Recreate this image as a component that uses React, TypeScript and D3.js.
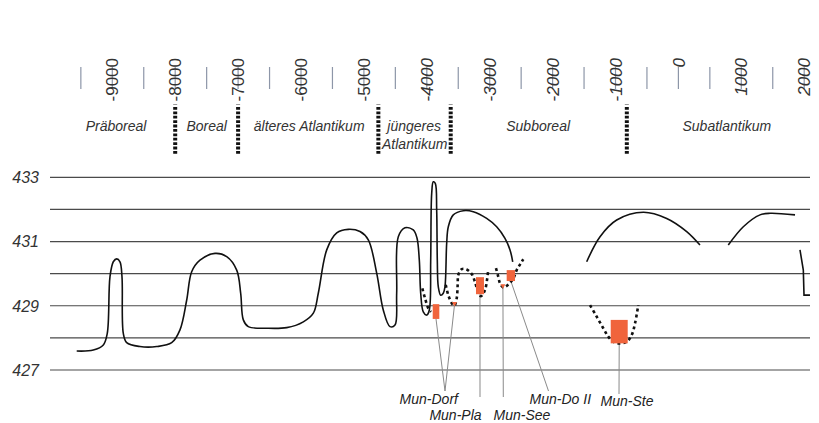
import React from 'react';
import * as d3 from 'd3';

// ---------- data ----------
const tickYears = d3.range(-9500, 2001, 500);
const labelYears = [-9000, -8000, -7000, -6000, -5000, -4000, -3000, -2000, -1000, 0, 1000, 2000];
const levelLabels = [433, 431, 429, 427];
const gridLevels = [433, 432, 431, 430, 429, 428, 427];

const periodBoundaries = [-8000, -7000, -4770, -3620, -820];
const periodNames = ['Präboreal', 'Boreal', 'älteres Atlantikum', 'jüngeres|Atlantikum', 'Subboreal', 'Subatlantikum'];
const periodLabelYears = [-8940, -7500, -5870, -4200, -2230, 770];

const mainCurve: [number, number][] = [
  [-9566, 427.59], [-9302, 427.62], [-9143, 427.78], [-9080, 428.14], [-9037, 429.9],
  [-8984, 430.37], [-8930, 430.46], [-8878, 430.37], [-8846, 429.9], [-8825, 428.14],
  [-8771, 427.85], [-8560, 427.73], [-8294, 427.73], [-8056, 427.85], [-7924, 428.25],
  [-7817, 429.18], [-7738, 430.06], [-7606, 430.42], [-7367, 430.63], [-7181, 430.53],
  [-7022, 430.11], [-6959, 429.39], [-6917, 428.56], [-6838, 428.35], [-6545, 428.3],
  [-6227, 428.32], [-5963, 428.5], [-5804, 428.77], [-5725, 429.39], [-5591, 430.74],
  [-5432, 431.27], [-5248, 431.38], [-5062, 431.31], [-4930, 431.05], [-4796, 430.01],
  [-4692, 428.87], [-4585, 428.35], [-4506, 428.4], [-4479, 429.39], [-4453, 431.15],
  [-4347, 431.43], [-4215, 431.36], [-4156, 431.11], [-4119, 430.42], [-4097, 429.39],
  [-4056, 428.81], [-4002, 428.71], [-3960, 428.87], [-3938, 430.42], [-3922, 432.5],
  [-3897, 432.86], [-3865, 432.81], [-3843, 431.98], [-3833, 430.42], [-3817, 429.59],
  [-3779, 429.33], [-3738, 429.39], [-3711, 429.59], [-3684, 430.94], [-3658, 431.46],
  [-3579, 431.83], [-3420, 431.96], [-3261, 431.93], [-3048, 431.72], [-2889, 431.46],
  [-2757, 431.1], [-2677, 430.74], [-2634, 430.37],
];
const subatlArc1: [number, number][] = [
  [-1458, 430.37], [-1246, 431.15], [-981, 431.67], [-558, 431.91], [-186, 431.72], [132, 431.31], [343, 430.89],
];
const subatlArc2: [number, number][] = [
  [793, 430.89], [1032, 431.46], [1297, 431.83], [1456, 431.88], [1854, 431.83],
];
const endHook: [number, number][] = [
  [1933, 430.74], [1986, 430.11], [1997, 429.33], [2092, 429.33],
];

const dashedDorf: [number, number][] = [
  [-4071, 429.54], [-4028, 429.23], [-3976, 428.92], [-3933, 428.81],
];
const dashedPla: [number, number][] = [
  [-3699, 429.65], [-3658, 429.33], [-3604, 429.08], [-3563, 429.0], [-3525, 429.23],
  [-3509, 429.65], [-3499, 429.96], [-3445, 430.14], [-3366, 430.13], [-3286, 429.99],
  [-3234, 429.74], [-3180, 429.4], [-3138, 429.3], [-3075, 429.49], [-3043, 429.8], [-3027, 430.05],
];
const dashedSee: [number, number][] = [
  [-2900, 430.17], [-2863, 429.9], [-2836, 429.7], [-2784, 429.57], [-2704, 429.66],
  [-2625, 429.85], [-2571, 430.11], [-2507, 430.32], [-2466, 430.45],
];
const dashedSte: [number, number][] = [
  [-1405, 429.02], [-1299, 428.66], [-1194, 428.3], [-1115, 428.04], [-1035, 427.88],
  [-956, 427.83], [-822, 427.88], [-742, 428.09], [-690, 428.45], [-638, 429.02],
];

const rectSites = ['Mun-Dorf', 'Mun-Pla', 'Mun-Do II', 'Mun-Ste'];
const rectYearFrom = [-3906, -3218, -2730, -1076];
const rectYearTo = [-3801, -3091, -2598, -806];
const rectLow = [428.59, 429.36, 429.77, 427.83];
const rectHigh = [429.05, 429.89, 430.11, 428.56];

const pointSites = ['Mun-Dorf', 'Mun-See'];
const pointYears = [-3560, -2790];
const pointLevels = [429.02, 429.58];

const siteNames = ['Mun-Dorf', 'Mun-Pla', 'Mun-See', 'Mun-Do II', 'Mun-Ste'];

// ---------- layout ----------
const W = 819;
const H = 423;
const labelLayout: Record<string, { tx: number; ty: number; ax: number; ay: number }> = {
  'Mun-Dorf': { tx: 428.8, ty: 404, ax: 445, ay: 391 },
  'Mun-Pla': { tx: 455.5, ty: 419.5, ax: 480, ay: 397 },
  'Mun-See': { tx: 522, ty: 419.5, ax: 503.3, ay: 397 },
  'Mun-Do II': { tx: 560.3, ty: 404, ax: 548.5, ay: 391 },
  'Mun-Ste': { tx: 627, ty: 406, ax: 619, ay: 394 },
};

const FONT = '"Liberation Sans", Arial, Helvetica, sans-serif';

export default function App() {
  const x = d3.scaleLinear().domain([-9000, 2000]).range([112.3, 804.2]);
  const y = d3.scaleLinear().domain([427, 433]).range([370, 177.3]);

  const smooth = d3
    .line<[number, number]>()
    .x((d) => x(d[0]))
    .y((d) => y(d[1]))
    .curve(d3.curveCatmullRom.alpha(0.5));
  const straight = d3
    .line<[number, number]>()
    .x((d) => x(d[0]))
    .y((d) => y(d[1]));

  const connectorStarts: { site: string; x: number; y: number }[] = [];
  rectSites.forEach((s, i) => {
    connectorStarts.push({ site: s, x: (x(rectYearFrom[i]) + x(rectYearTo[i])) / 2, y: y(rectLow[i]) });
  });
  pointSites.forEach((s, i) => {
    connectorStarts.push({ site: s, x: x(pointYears[i]), y: y(pointLevels[i]) });
  });

  return (
    <svg
      width={W}
      height={H}
      style={{ position: 'absolute', left: 0, top: 0, background: '#fff' }}
      fontFamily={FONT}
    >
      {/* top time axis */}
      {tickYears.map((t) => (
        <line key={'t' + t} x1={x(t)} x2={x(t)} y1={67} y2={89} stroke="#8d96a8" strokeWidth={1.2} />
      ))}
      {labelYears.map((t) => (
        <text
          key={'l' + t}
          transform={`translate(${x(t)},58) rotate(-90)`}
          textAnchor="end"
          dy="0.36em"
          fontSize={17}
          fontStyle={t >= -4000 ? 'italic' : 'normal'}
          fill="#333"
        >
          {t}
        </text>
      ))}

      {/* period separators */}
      {periodBoundaries.map((b) => (
        <g key={'b' + b}>
          <line x1={x(b) - 2} x2={x(b) + 2} y1={104.5} y2={104.5} stroke="#999" strokeWidth={1} />
          <line
            x1={x(b)}
            x2={x(b)}
            y1={107}
            y2={155}
            stroke="#111"
            strokeWidth={4}
            strokeDasharray="2.8 1.6"
          />
        </g>
      ))}
      {periodNames.map((n, i) => {
        const parts = n.split('|');
        return (
          <text key={'p' + i} x={x(periodLabelYears[i])} y={130.5} textAnchor="middle" fontSize={14} fontStyle="italic" fill="#333">
            {parts.map((p, j) => (
              <tspan key={j} x={x(periodLabelYears[i]) + (j === 1 ? 0.5 : 0)} dy={j === 0 ? 0 : 18}>
                {p}
              </tspan>
            ))}
          </text>
        );
      })}

      {/* level grid */}
      {gridLevels.map((g) => (
        <line key={'g' + g} x1={50} x2={810} y1={y(g)} y2={y(g)} stroke="#4a4a4a" strokeWidth={1.2} />
      ))}
      {levelLabels.map((g) => (
        <text key={'y' + g} x={39} y={y(g)} dy="0.36em" textAnchor="end" fontSize={16} fontStyle="italic" fill="#333">
          {g}
        </text>
      ))}

      {/* connectors */}
      {connectorStarts.map((c, i) => {
        const L = labelLayout[c.site];
        return <line key={'c' + i} x1={c.x} y1={c.y} x2={L.ax} y2={L.ay} stroke="#8a8a8a" strokeWidth={1} />;
      })}

      {/* solid curves */}
      {[mainCurve, subatlArc1, subatlArc2].map((seg, i) => (
        <path key={'s' + i} d={smooth(seg) || ''} fill="none" stroke="#111" strokeWidth={1.6} />
      ))}
      <path d={straight(endHook) || ''} fill="none" stroke="#111" strokeWidth={1.6} />

      {/* dashed curves */}
      {[dashedDorf, dashedPla, dashedSee, dashedSte].map((seg, i) => (
        <path
          key={'d' + i}
          d={smooth(seg) || ''}
          fill="none"
          stroke="#111"
          strokeWidth={2.6}
          strokeDasharray="3 3"
        />
      ))}

      {/* sample rectangles */}
      {rectSites.map((s, i) => (
        <rect
          key={'r' + i}
          x={x(rectYearFrom[i])}
          y={y(rectHigh[i])}
          width={x(rectYearTo[i]) - x(rectYearFrom[i])}
          height={y(rectLow[i]) - y(rectHigh[i])}
          fill="#f0643c"
        />
      ))}
      {pointSites.map((s, i) => {
        const px = x(pointYears[i]);
        const py = y(pointLevels[i]);
        return <path key={'pt' + i} d={`M${px - 2.5},${py - 3}L${px + 2.5},${py - 3}L${px},${py + 1.5}Z`} fill="#f0643c" />;
      })}

      {/* site labels */}
      {siteNames.map((s) => {
        const L = labelLayout[s];
        return (
          <text key={'n' + s} x={L.tx} y={L.ty} textAnchor="middle" fontSize={14} fontStyle="italic" fill="#222">
            {s}
          </text>
        );
      })}
    </svg>
  );
}
